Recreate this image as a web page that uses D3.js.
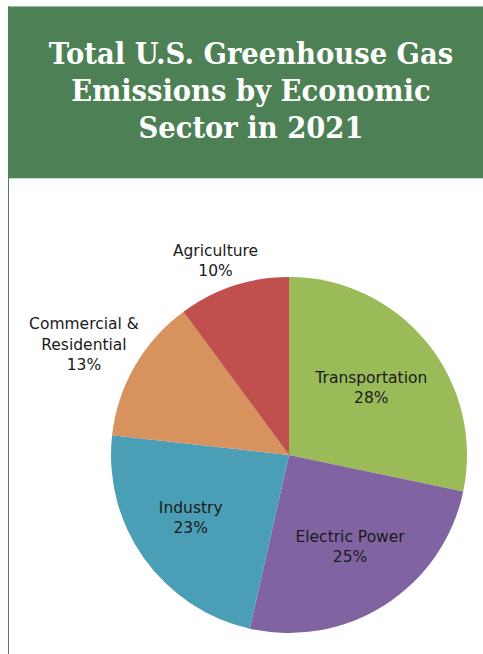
<!DOCTYPE html>
<html>
<head>
<meta charset="utf-8">
<script src="https://cdn.jsdelivr.net/npm/d3@7"></script>
<style>
  body { margin: 0; background: #fff; }
  svg { display: block; }
</style>
</head>
<body>
<div id="chart"></div>
<script>
// data
var sectors = ["Transportation", "Electric Power", "Industry", "Commercial & Residential", "Agriculture"];
var shares = [28, 25, 23, 13, 10];
var sectorColors = ["#9bbb59", "#8064a2", "#4a9fb6", "#d8925d", "#c0504d"];
// how each label is broken into lines
var labelLines = [["Transportation"], ["Electric Power"], ["Industry"], ["Commercial &", "Residential"], ["Agriculture"]];
var titleLines = ["Total U.S. Greenhouse Gas", "Emissions by Economic", "Sector in 2021"];

var width = 483, height = 654;

var svg = d3.select("#chart")
  .append("svg")
    .attr("width", width)
    .attr("height", height);

// header box
svg.append("rect")
    .attr("x", 8).attr("y", 6)
    .attr("width", width - 8).attr("height", 172)
    .attr("fill", "#4e8055");
svg.append("line")
    .attr("x1", 8).attr("x2", width)
    .attr("y1", 6.5).attr("y2", 6.5)
    .attr("stroke", "#9fb9a2");
svg.append("line")
    .attr("x1", 8).attr("x2", width)
    .attr("y1", 178.5).attr("y2", 178.5)
    .attr("stroke", "#c9dccb");
// left border down the page
svg.append("line")
    .attr("x1", 8.5).attr("x2", 8.5)
    .attr("y1", 6).attr("y2", height)
    .attr("stroke", "#4e8055");

// title, squeezed a bit since DejaVu Serif runs wide
svg.append("g")
    .attr("transform", "translate(251,0) scale(0.945,1)")
  .selectAll("text")
  .data(titleLines)
  .join("text")
    .attr("x", 0)
    .attr("y", function(d, i) { return 64 + i * 37; })
    .attr("text-anchor", "middle")
    .style("font-family", "'DejaVu Serif', serif")
    .style("font-weight", "bold")
    .style("font-size", "29px")
    .style("fill", "#fff")
    .text(function(d) { return d; });

// pie
var cx = 289, cy = 455, radius = 178;
var g = svg.append("g")
    .attr("transform", "translate(" + cx + "," + cy + ")");

var pie = d3.pie().sort(null).value(function(d) { return d; });
var arcs = pie(shares);

var arc = d3.arc().innerRadius(0).outerRadius(radius);

g.selectAll("path")
  .data(arcs)
  .join("path")
    .attr("d", arc)
    .attr("fill", function(d, i) { return sectorColors[i]; });

// label radius per slice (small slices sit outside the pie) + small nudges
var labelRadius = [106, 113, 117, 231, 197];
var labelNudge = [[0, 0], [0, -3], [-3, -5], [-5, 5], [-12, -7]];
var lineH = 20.5;

var labels = g.selectAll("g.lbl")
  .data(arcs)
  .join("g")
    .attr("class", "lbl")
    .attr("transform", function(d, i) {
      var c = d3.arc().innerRadius(labelRadius[i]).outerRadius(labelRadius[i]).centroid(d);
      return "translate(" + (c[0] + labelNudge[i][0]) + "," + (c[1] + labelNudge[i][1]) + ")";
    });

labels.append("text")
    .attr("text-anchor", "middle")
    .style("font-family", "'DejaVu Sans', sans-serif")
    .style("font-size", "15.5px")
    .style("fill", "#1a1a1a")
    .each(function(d, i) {
      var lines = labelLines[i].concat([d.data + "%"]);
      var t = d3.select(this);
      var top = -(lines.length - 1) * lineH / 2 + 5;
      lines.forEach(function(l, k) {
        t.append("tspan")
          .attr("x", 0)
          .attr("y", top + k * lineH)
          .text(l);
      });
    });
</script>
</body>
</html>
